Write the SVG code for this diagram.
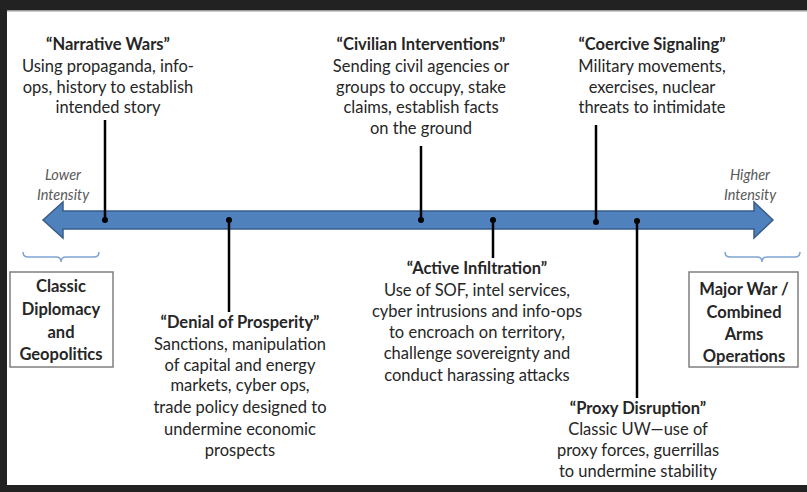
<svg xmlns="http://www.w3.org/2000/svg" width="807" height="492" viewBox="0 0 807 492">
<style>
.t{font-family:Lato,"Open Sans","Liberation Sans",sans-serif;font-size:16.5px;fill:#262626;text-anchor:middle}
.b{font-weight:bold}
.i{font-style:italic;fill:#595959;font-size:14.5px}
.ln{stroke:#000;stroke-width:2.5;fill:none}
.br{stroke:#7FA4D2;stroke-width:1.5;fill:none}
.box{fill:#fff;stroke:#7F7F7F;stroke-width:1.5}
</style>
<rect x="0" y="0" width="807" height="492" fill="#fff"/>
<rect x="0" y="0" width="807" height="10" fill="#222"/>
<rect x="0" y="10" width="807" height="1.5" fill="#999"/>
<rect x="0" y="0" width="7" height="492" fill="#222"/>
<rect x="0" y="485" width="807" height="7" fill="#222"/>
<g id="axis">
<path d="M43,220 L63,202 L63,211 L754,211 L754,202 L773,220 L754,238 L754,229 L63,229 L63,238 Z" fill="#4F81BD" stroke="#385D8A" stroke-width="1.5"/>
</g>
<g id="connectors">
<line class="ln" x1="105" y1="120" x2="105" y2="220"/><circle cx="105" cy="220" r="3"/>
<line class="ln" x1="421" y1="146" x2="421" y2="220"/><circle cx="421" cy="220" r="3"/>
<line class="ln" x1="596" y1="125" x2="596" y2="222"/><circle cx="596" cy="222" r="3"/>
<line class="ln" x1="229" y1="220" x2="229" y2="312"/><circle cx="229" cy="220" r="3"/>
<line class="ln" x1="493" y1="220" x2="493" y2="258"/><circle cx="493" cy="220" r="3"/>
<line class="ln" x1="637" y1="221" x2="637" y2="398"/><circle cx="637" cy="221" r="3"/>
</g>
<g id="lower">
<text class="t i" x="63" y="180">Lower</text>
<text class="t i" x="63" y="200">Intensity</text>
<path class="br" d="M23,252 Q23,257 28,257 L56,257 Q61,257 61,262 Q61,257 66,257 L94,257 Q99,257 99,252"/>
</g>
<g id="higher">
<text class="t i" x="750" y="180">Higher</text>
<text class="t i" x="750" y="200">Intensity</text>
<path class="br" d="M725,252 Q725,257 730,257 L757,257 Q762,257 762,262 Q762,257 767,257 L795,257 Q800,257 800,252"/>
</g>
<g id="classic">
<rect class="box" x="10" y="272" width="103" height="95"/>
<text class="t b" x="61" y="292">Classic</text>
<text class="t b" x="61" y="315">Diplomacy</text>
<text class="t b" x="61" y="338">and</text>
<text class="t b" x="61" y="360">Geopolitics</text>
</g>
<g id="major">
<rect class="box" x="689" y="272" width="109" height="95"/>
<text class="t b" x="744" y="295">Major War /</text>
<text class="t b" x="744" y="318">Combined</text>
<text class="t b" x="744" y="340">Arms</text>
<text class="t b" x="744" y="362">Operations</text>
</g>
<g id="narrative">
<text class="t b" x="108" y="50">“Narrative Wars”</text>
<text class="t" x="108" y="72">Using propaganda, info-</text>
<text class="t" x="108" y="93">ops, history to establish</text>
<text class="t" x="108" y="113">intended story</text>
</g>
<g id="civilian">
<text class="t b" x="421" y="50">“Civilian Interventions”</text>
<text class="t" x="421" y="72">Sending civil agencies or</text>
<text class="t" x="421" y="93">groups to occupy, stake</text>
<text class="t" x="421" y="113">claims, establish facts</text>
<text class="t" x="421" y="134">on the ground</text>
</g>
<g id="coercive">
<text class="t b" x="652" y="50">“Coercive Signaling”</text>
<text class="t" x="652" y="72">Military movements,</text>
<text class="t" x="652" y="93">exercises, nuclear</text>
<text class="t" x="652" y="113">threats to intimidate</text>
</g>
<g id="denial">
<text class="t b" x="240" y="328">“Denial of Prosperity”</text>
<text class="t" x="240" y="350">Sanctions, manipulation</text>
<text class="t" x="240" y="371">of capital and energy</text>
<text class="t" x="240" y="391">markets, cyber ops,</text>
<text class="t" x="240" y="413">trade policy designed to</text>
<text class="t" x="240" y="435">undermine economic</text>
<text class="t" x="240" y="456">prospects</text>
</g>
<g id="active">
<text class="t b" x="477" y="274">“Active Infiltration”</text>
<text class="t" x="477" y="296">Use of SOF, intel services,</text>
<text class="t" x="477" y="317">cyber intrusions and info-ops</text>
<text class="t" x="477" y="338">to encroach on territory,</text>
<text class="t" x="477" y="359">challenge sovereignty and</text>
<text class="t" x="477" y="381">conduct harassing attacks</text>
</g>
<g id="proxy">
<text class="t b" x="638" y="414">“Proxy Disruption”</text>
<text class="t" x="638" y="435">Classic UW—use of</text>
<text class="t" x="638" y="456">proxy forces, guerrillas</text>
<text class="t" x="638" y="477">to undermine stability</text>
</g>
</svg>
